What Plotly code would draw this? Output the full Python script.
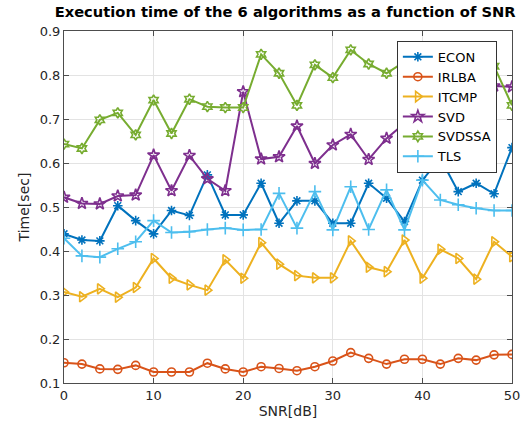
import plotly.graph_objects as go

# SNR sweep (dB)
snr = list(range(0, 52, 2))

# Execution time in seconds for each algorithm
econ = [0.439, 0.425, 0.423, 0.503, 0.469, 0.439, 0.492, 0.481, 0.573, 0.482,
        0.482, 0.554, 0.463, 0.514, 0.514, 0.463, 0.463, 0.554, 0.520, 0.467,
        0.561, 0.611, 0.535, 0.554, 0.530, 0.635]
irlba = [0.146, 0.143, 0.132, 0.131, 0.140, 0.125, 0.125, 0.125, 0.145, 0.132,
         0.125, 0.137, 0.133, 0.128, 0.137, 0.150, 0.169, 0.156, 0.143, 0.154,
         0.154, 0.143, 0.156, 0.152, 0.164, 0.165]
itcmp = [0.307, 0.296, 0.314, 0.295, 0.317, 0.383, 0.338, 0.323, 0.311, 0.380,
         0.338, 0.419, 0.370, 0.344, 0.339, 0.339, 0.423, 0.363, 0.353, 0.425,
         0.338, 0.404, 0.383, 0.336, 0.421, 0.387]
svd = [0.522, 0.508, 0.507, 0.525, 0.527, 0.618, 0.537, 0.617, 0.564, 0.537,
       0.762, 0.609, 0.614, 0.684, 0.599, 0.641, 0.665, 0.608, 0.656, 0.690,
       0.700, 0.720, 0.645, 0.740, 0.775, 0.773]
svdssa = [0.643, 0.633, 0.698, 0.714, 0.664, 0.743, 0.667, 0.745, 0.728, 0.726,
          0.726, 0.847, 0.804, 0.731, 0.823, 0.794, 0.857, 0.825, 0.804, 0.830,
          0.840, 0.860, 0.830, 0.810, 0.820, 0.731]
tls = [0.429, 0.389, 0.386, 0.405, 0.421, 0.469, 0.442, 0.444, 0.449, 0.452,
       0.448, 0.449, 0.531, 0.452, 0.535, 0.448, 0.546, 0.449, 0.539, 0.448,
       0.561, 0.516, 0.505, 0.497, 0.492, 0.492]

series = [
    ("ECON", econ, "#0072BD", "asterisk-open", 8),
    ("IRLBA", irlba, "#D95319", "circle-open", 8),
    ("ITCMP", itcmp, "#EDB120", "triangle-right-open", 9),
    ("SVD", svd, "#7E2F8E", "star-open", 9),
    ("SVDSSA", svdssa, "#77AC30", "hexagram-open", 8),
    ("TLS", tls, "#4DBEEE", "cross-thin-open", 9),
]

fig = go.Figure()
for name, vals, color, symbol, size in series:
    fig.add_trace(go.Scatter(
        x=snr, y=vals, name=name, mode="lines+markers",
        line=dict(color=color, width=2),
        marker=dict(symbol=symbol, size=size, color=color,
                    line=dict(color=color, width=1.6)),
    ))

axis_common = dict(
    showline=True, linecolor="#4d4d4d", linewidth=1, mirror="ticks",
    ticks="inside", ticklen=5, tickcolor="#4d4d4d",
    showgrid=True, gridcolor="#e3e3e3", gridwidth=1, zeroline=False,
    automargin=False,
    tickfont=dict(family="DejaVu Sans", size=13, color="#262626"),
)

fig.update_xaxes(range=[0, 50], tickvals=[0, 10, 20, 30, 40, 50],
                 title=dict(text="SNR[dB]", standoff=4,
                            font=dict(family="DejaVu Sans", size=14, color="#262626")),
                 **axis_common)
fig.update_yaxes(range=[0.1, 0.9], tickvals=[0.1, 0.2, 0.3, 0.4, 0.5, 0.6, 0.7, 0.8, 0.9],
                 tickformat=".1f",
                 title=dict(text="Time[sec]", standoff=6,
                            font=dict(family="DejaVu Sans", size=14, color="#262626")),
                 **axis_common)

fig.update_layout(
    width=531, height=424,
    margin=dict(l=64, r=19, t=31, b=41),
    plot_bgcolor="white", paper_bgcolor="white",
    title=dict(text="<b>Execution time of the 6 algorithms as a function of SNR</b>",
               x=0.537, xanchor="center", y=0.985, yanchor="top",
               font=dict(family="DejaVu Sans", size=14.7, color="#000000")),
    legend=dict(x=0.743, y=0.972, xanchor="left", yanchor="top",
                bgcolor="white", bordercolor="#333333", borderwidth=1,
                font=dict(family="DejaVu Sans", size=13, color="#000000"),
                tracegroupgap=0, itemwidth=30),
    showlegend=True,
)

fig.write_html("out.html")
